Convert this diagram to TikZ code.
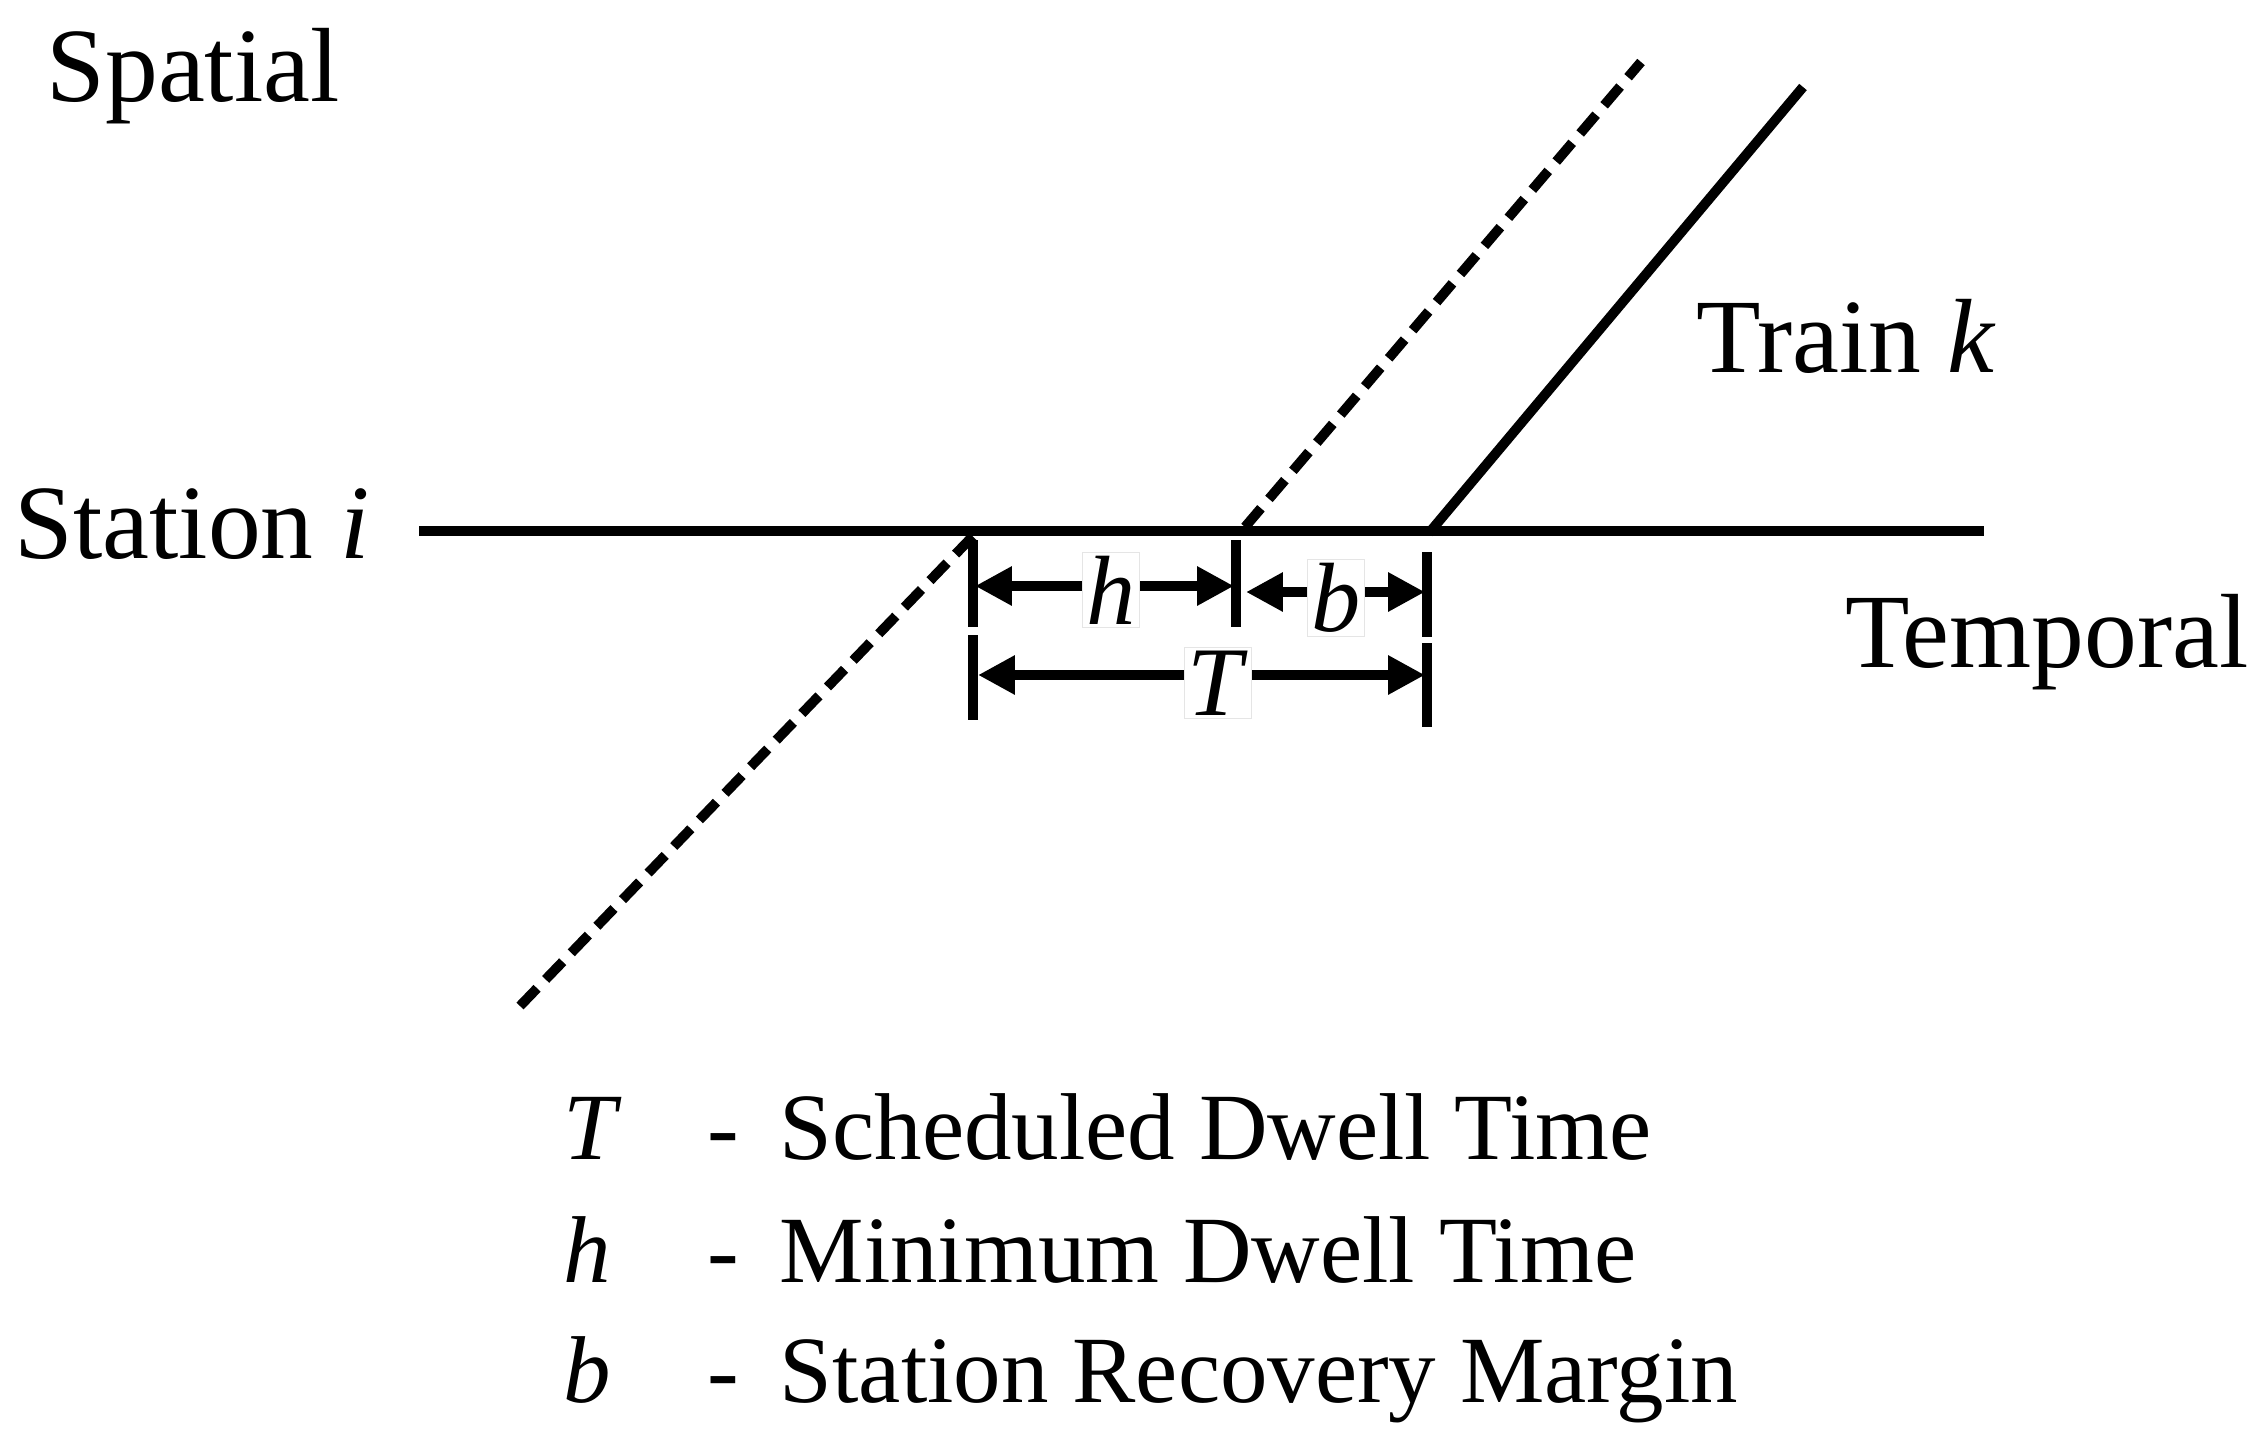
\documentclass[tikz,border=0pt]{standalone}
\usepackage{fontspec}
\setmainfont{Liberation Serif}
\usetikzlibrary{arrows.meta}

\begin{document}
\begin{tikzpicture}[x=0.01cm, y=-0.01cm,
  txt/.style={inner sep=0pt, anchor=base west, font=\fontsize{30}{36}\selectfont},
  legtxt/.style={inner sep=0pt, anchor=base west, font=\fontsize{27}{32}\selectfont},
  dimlbl/.style={inner sep=1pt, fill=white, draw=black!10, line width=0.3pt, font=\fontsize{28}{33}\selectfont},
  track/.style={line width=2.8pt},
  ghost/.style={line width=2.8pt, dash pattern=on 7pt off 3.5pt},
  tick/.style={line width=2.7pt},
  dim/.style={line width=2.9pt, {Triangle[length=10.5pt,width=10.5pt]}-{Triangle[length=10.5pt,width=10.5pt]}}]
\useasboundingbox (0,0) rectangle (2263,1448);

% axis labels
\node[txt](spatial) at (46,101) {Spatial};
\node[txt](station) at (14,558) {Station \textit{i}};
\node[txt](train) at (1696,372) {Train \textit{k}};
\node[txt](temporal) at (1845,667) {Temporal};

% station line and train paths
\coordinate (s0) at (419,531);
\coordinate (s1) at (1984,531);
\coordinate (arrlow) at (520,1006);
\coordinate (arr) at (973,536);
\coordinate (dep0) at (1245,527);
\coordinate (dep0top) at (1641,62);
\coordinate (dep) at (1429,533);
\coordinate (deptop) at (1803,87);

\draw[track] (s0) to (s1);
\draw[ghost] (arrlow) to (arr);
\draw[ghost] (dep0) to (dep0top);
\draw[track] (dep) to (deptop);

% dimension ticks
\coordinate (ta1) at (973,540);
\coordinate (ta2) at (973,627);
\coordinate (ta3) at (973,635);
\coordinate (ta4) at (973,720);
\coordinate (tb1) at (1236,540);
\coordinate (tb2) at (1236,627);
\coordinate (tc1) at (1427,552);
\coordinate (tc2) at (1427,637);
\coordinate (tc3) at (1427,643);
\coordinate (tc4) at (1427,727);

\draw[tick] (ta1) to (ta2);
\draw[tick] (ta3) to (ta4);
\draw[tick] (tb1) to (tb2);
\draw[tick] (tc1) to (tc2);
\draw[tick] (tc3) to (tc4);

% dimension arrows
\coordinate (h0) at (975,586);
\coordinate (h1) at (1234,586);
\coordinate (b0) at (1246,592);
\coordinate (b1) at (1425,592);
\coordinate (T0) at (978,675);
\coordinate (T1) at (1425,675);

\draw[dim] (h0) to (h1);
\draw[dim] (b0) to (b1);
\draw[dim] (T0) to (T1);

\node[dimlbl](hlbl) at (1111,590) {\textit{h}};
\node[dimlbl](blbl) at (1336,598) {\textit{b}};
\node[dimlbl](Tlbl) at (1218,683) {\textit{T}};

% legend
\node[legtxt](symT) at (563,1159) {\textit{T}};
\node[legtxt](dashT) at (707,1159) {-};
\node[legtxt](descT) at (779,1159) {Scheduled Dwell Time};
\node[legtxt](symh) at (563,1282) {\textit{h}};
\node[legtxt](dashh) at (707,1282) {-};
\node[legtxt](desch) at (779,1282) {Minimum Dwell Time};
\node[legtxt](symb) at (563,1402) {\textit{b}};
\node[legtxt](dashb) at (707,1402) {-};
\node[legtxt](descb) at (779,1402) {Station Recovery Margin};

\end{tikzpicture}
\end{document}
